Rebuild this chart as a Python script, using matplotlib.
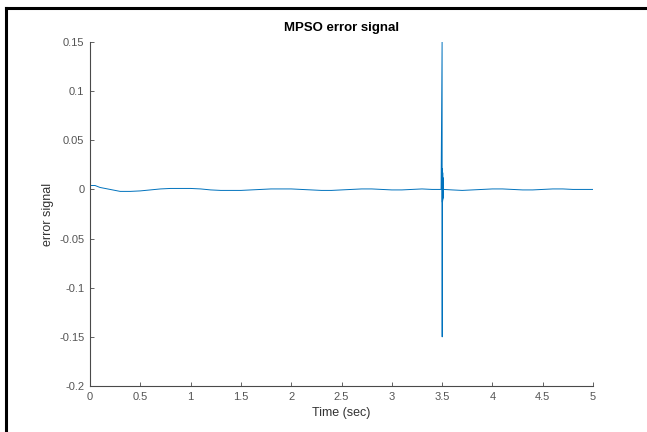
import matplotlib
matplotlib.use('Agg')
import matplotlib.pyplot as plt
from matplotlib.lines import Line2D

# error signal (time in sec, error)
t_base = [0.0, 0.05, 0.1, 0.2, 0.3, 0.4, 0.5, 0.6, 0.7, 0.8, 0.9, 1.0, 1.1,
          1.2, 1.3, 1.4, 1.5, 1.6, 1.7, 1.8, 1.9, 2.0, 2.1, 2.2, 2.3, 2.4,
          2.5, 2.6, 2.7, 2.8, 2.9, 3.0, 3.1, 3.2, 3.3, 3.4, 3.49]
e_base = [0.004, 0.004, 0.002, 0.0, -0.002, -0.002, -0.0015, -0.0005, 0.0005,
          0.001, 0.001, 0.001, 0.0005, -0.0005, -0.001, -0.001, -0.001, -0.0005,
          0.0, 0.0005, 0.0005, 0.0005, 0.0, -0.0005, -0.001, -0.001, -0.0005,
          0.0, 0.0005, 0.0005, 0.0, -0.0005, -0.0005, 0.0, 0.0005, 0.0, 0.0]

t_spike = [3.500, 3.501, 3.502, 3.503, 3.504, 3.505, 3.506, 3.507, 3.508,
           3.509, 3.510, 3.511, 3.512, 3.513, 3.514, 3.515]
e_spike = [0.15, -0.15, 0.021, -0.013, 0.02, -0.012, 0.017, -0.01, 0.012,
           -0.008, 0.008, -0.005, 0.004, -0.002, 0.001, 0.0]

t_tail = [3.6, 3.7, 3.8, 3.9, 4.0, 4.1, 4.2, 4.3, 4.4, 4.5, 4.6, 4.7, 4.8,
          4.9, 5.0]
e_tail = [-0.0005, -0.001, -0.0005, 0.0, 0.0005, 0.0005, 0.0, -0.0005,
          -0.0005, 0.0, 0.0005, 0.0005, 0.0, 0.0, 0.0]

t = t_base + t_spike + t_tail
e = e_base + e_spike + e_tail

x_ticks = [0, 0.5, 1, 1.5, 2, 2.5, 3, 3.5, 4, 4.5, 5]
x_labels = ['0', '0.5', '1', '1.5', '2', '2.5', '3', '3.5', '4', '4.5', '5']
y_ticks = [-0.2, -0.15, -0.1, -0.05, 0, 0.05, 0.1, 0.15]
y_labels = ['-0.2', '-0.15', '-0.1', '-0.05', '0', '0.05', '0.1', '0.15']

plt.rcParams['font.family'] = ['Liberation Sans', 'DejaVu Sans']
fig = plt.figure(figsize=(6.47, 4.32), dpi=100)
ax = fig.add_axes([90/647, 46/432, 503/647, 344/432])

ax.plot(t, e, color='#0072BD', lw=0.7)
ax.set_xlim(0, 5)
ax.set_ylim(-0.2, 0.15)
ax.set_xticks(x_ticks, x_labels)
ax.set_yticks(y_ticks, y_labels)

grey = '#4a4a4a'
for s in ['top', 'right']:
    ax.spines[s].set_visible(False)
for s in ['left', 'bottom']:
    ax.spines[s].set_color(grey)
    ax.spines[s].set_linewidth(0.8)
ax.tick_params(direction='in', length=3, width=0.6, colors=grey,
               labelsize=8, labelcolor='#555555', pad=4)

ax.set_title('MPSO error signal', fontsize=9.5, fontweight='bold', pad=8)
ax.set_xlabel('Time (sec)', fontsize=9, color='#333333', labelpad=4)
ax.set_ylabel('error signal', fontsize=9, color='#333333', labelpad=4)

# outer frame (only top and left edges are visible in the crop)
fig.add_artist(Line2D([6/647, 1.0], [1 - 8/432, 1 - 8/432], color='black',
                      lw=2.2, transform=fig.transFigure))
fig.add_artist(Line2D([6/647, 6/647], [0.0, 1 - 8/432], color='black',
                      lw=2.2, transform=fig.transFigure))

fig.savefig('out.png', dpi=100)
